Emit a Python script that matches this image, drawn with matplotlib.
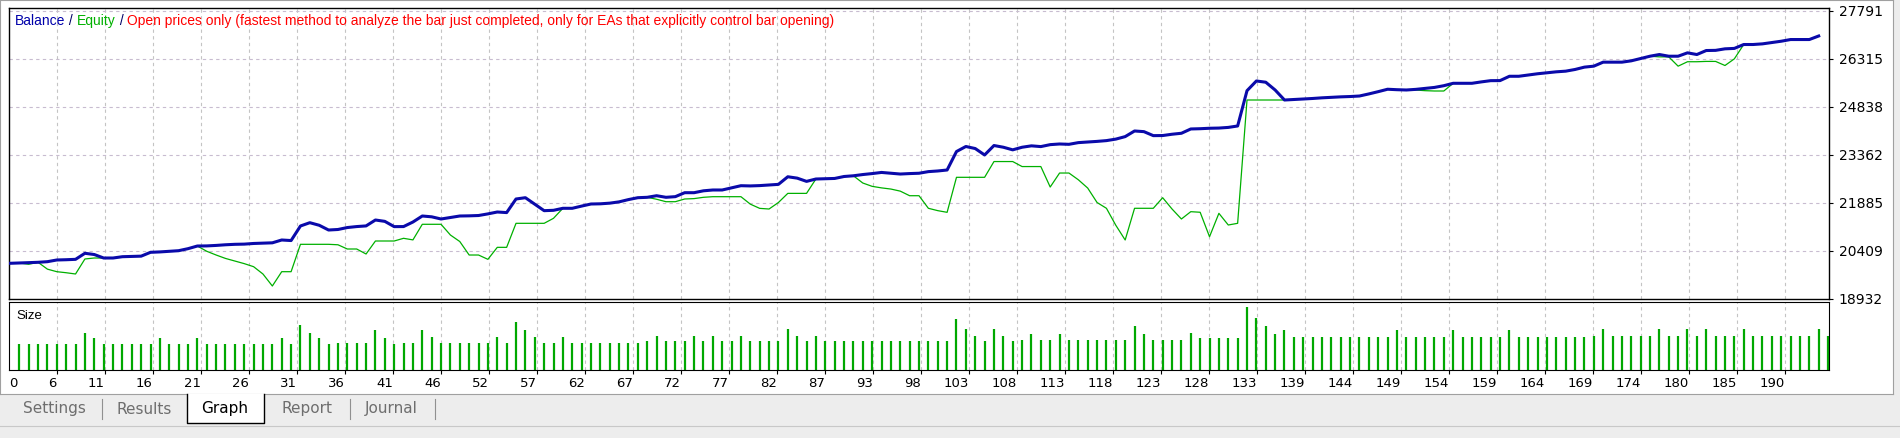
import numpy as np
import matplotlib
matplotlib.use("Agg")
import matplotlib.pyplot as plt
from matplotlib.patches import Rectangle
from matplotlib.lines import Line2D

balance = [
20030,20039,20050,20061,20080,20132,20140,20152,20338,20300,
20193,20193,20233,20240,20250,20368,20380,20400,20418,20480,
20562,20565,20580,20600,20614,20620,20640,20650,20660,20747,
20730,21178,21279,21200,21054,21070,21130,21160,21180,21362,
21320,21158,21160,21300,21485,21460,21393,21440,21485,21490,
21500,21550,21608,21590,22008,22048,21850,21649,21660,21722,
21722,21790,21854,21860,21880,21920,21990,22048,22060,22109,
22060,22080,22202,22202,22260,22285,22285,22350,22417,22410,
22420,22440,22458,22692,22650,22550,22623,22630,22640,22700,
22722,22760,22790,22825,22800,22776,22790,22800,22850,22870,
22900,23468,23623,23560,23362,23653,23600,23520,23600,23643,
23620,23680,23700,23690,23742,23760,23780,23804,23850,23927,
24100,24080,23957,23960,24000,24030,24162,24170,24184,24190,
24210,24254,25340,25638,25600,25361,25053,25070,25084,25100,
25120,25136,25150,25160,25176,25240,25310,25384,25370,25361,
25380,25410,25440,25493,25567,25567,25567,25610,25648,25650,
25783,25783,25820,25860,25890,25920,25940,25992,26064,26094,
26217,26217,26217,26258,26329,26400,26452,26400,26400,26504,
26452,26575,26580,26627,26640,26760,26760,26780,26820,26861,
26913,26913,26913,27022]

equity = [
20030,20039,20000,20061,19850,19772,19740,19701,20163,20193,
20193,20193,20233,20240,20250,20368,20380,20400,20418,20480,
20562,20400,20285,20180,20100,20020,19926,19700,19332,19772,
19772,20614,20614,20614,20614,20600,20470,20470,20316,20716,
20716,20716,20799,20750,21230,21230,21230,20900,20700,20285,
20285,20152,20521,20521,21260,21260,21260,21260,21414,21722,
21722,21790,21854,21860,21880,21920,21990,22048,22060,22000,
21925,21925,22008,22020,22060,22079,22079,22079,22079,21850,
21720,21700,21900,22181,22181,22181,22623,22630,22640,22700,
22722,22500,22397,22350,22314,22250,22109,22109,21722,21650,
21598,22675,22675,22675,22675,23160,23160,23160,23006,23006,
23006,22376,22807,22807,22600,22345,21900,21722,21200,20747,
21722,21722,21722,22048,21700,21393,21618,21600,20848,21567,
21208,21260,25053,25053,25053,25053,25053,25070,25084,25100,
25120,25136,25150,25160,25176,25240,25310,25384,25370,25361,
25360,25340,25330,25330,25567,25567,25567,25610,25648,25650,
25783,25783,25820,25860,25890,25920,25940,25992,26064,26094,
26217,26217,26217,26258,26329,26400,26380,26380,26094,26230,
26230,26240,26240,26114,26319,26760,26760,26780,26820,26861,
26913,26913,26913,27022]

size = [
.100,.100,.100,.100,.100,.100,.100,.141,.122,.100,
.100,.100,.100,.100,.100,.122,.100,.100,.100,.122,
.100,.100,.100,.100,.100,.100,.100,.100,.122,.100,
.173,.141,.122,.100,.103,.103,.103,.103,.154,.122,
.100,.103,.103,.154,.127,.103,.103,.103,.103,.103,
.103,.127,.103,.185,.154,.127,.103,.103,.127,.103,
.103,.103,.103,.103,.103,.103,.103,
.112,.131,.112,.112,.112,.131,.112,.131,.112,
.112,.131,.112,.112,.112,.112,.158,.131,.112,.131,
.112,.112,.112,.112,.112,.112,.112,.112,.112,.112,
.112,.112,.112,.112,.196,.158,.131,.112,.158,.131,
.112,.115,.138,.115,.115,.138,.115,.115,.115,.115,
.115,.115,.115,.169,.138,.115,.115,.115,.115,.142,
.123,.123,.123,.123,.123,.242,.200,.169,
.138,.154,.127,.127,.127,.127,.127,.127,.127,
.127,.127,.127,.127,.154,.127,.127,.127,.127,.127,
.154,.127,.127,.127,.127,.127,.154,.127,.127,.127,
.127,.127,.127,.127,.127,.131,.158,.131,.131,.131,
.131,.131,.158,.131,.131,.158,.131,.158,.131,.131,
.131,.158,.131,.131,.131,.131,.131,.131,.131,.158,
.131]

y_ticks = [18932, 20409, 21885, 23362, 24838, 26315, 27791]
x_labels = [6, 11, 16, 21, 26, 31, 36, 41, 46, 52, 57, 62, 67, 72, 77, 82, 87, 93, 98,
            103, 108, 113, 118, 123, 128, 133, 139, 144, 149, 154, 159, 164, 169, 174, 180, 185, 190]
tabs = ["Settings", "Results", "Graph", "Report", "Journal"]

W, H = 1900, 438
fig = plt.figure(figsize=(W / 100, H / 100), dpi=100)
fig.patch.set_facecolor("#EDEDED")

def rect(l, t, r, b):
    return [l / W, 1 - b / H, (r - l) / W, (b - t) / H]

bg = fig.add_axes([0, 1 - 394 / H, 1893 / W, 394 / H], zorder=-5)
bg.set_facecolor("white")
bg.set_xticks([]); bg.set_yticks([])
for s in bg.spines.values():
    s.set_color("#A0A0A0"); s.set_linewidth(0.8)

ax = fig.add_axes(rect(9, 8, 1829, 299), zorder=2)
ax2 = fig.add_axes(rect(9, 302, 1829, 370), zorder=2)

xl = (-0.1, 194.1)
grid_pos = np.linspace(4.99, 189.4, len(x_labels))
grid_kw = dict(color="#C4C4C4", lw=0.8, ls=(0, (3, 3)))

xb = np.arange(len(balance))
ax.plot(xb, equity, color="#00B000", lw=0.9, zorder=3)
ax.plot(xb, balance, color="#0A0AAA", lw=2.2, zorder=4, solid_joinstyle="round")
ax.set_xlim(*xl)
ax.set_ylim(18932, 27883)
ax.set_xticks(grid_pos)
ax.set_xticklabels([])
ax.tick_params(axis="x", length=0)
ax.yaxis.tick_right()
ax.set_yticks(y_ticks)
ax.set_yticklabels([str(v) for v in y_ticks], fontsize=10, family="DejaVu Sans")
ax.tick_params(axis="y", length=3, pad=4)
for v in grid_pos:
    ax.axvline(v, **grid_kw, zorder=1)
for v in y_ticks[1:]:
    ax.axhline(v, color="#C8BCD0", lw=0.8, ls=(0, (3, 3)), zorder=1)
for s in ax.spines.values():
    s.set_linewidth(1.0)

xs = np.arange(1, len(size) + 1)
ax2.vlines(xs, 0, size, color="#00A800", lw=1.6)
ax2.set_xlim(*xl)
ax2.set_ylim(0, 0.262)
ax2.set_yticks([])
ax2.set_xticks(list(grid_pos) + [0.83])
ax2.set_xticklabels([str(v) for v in x_labels] + ["0"], fontsize=9.5)
ax2.tick_params(axis="x", length=3, pad=2)
for lbl in ax2.get_xticklabels():
    lbl.set_horizontalalignment("right")
ax2.get_xticklines()[-2].set_visible(False)
for v in grid_pos:
    ax2.axvline(v, **grid_kw, zorder=0)
ax2.text(0.004, 0.88, "Size", transform=ax2.transAxes, fontsize=9.5, va="top",
         family="Liberation Sans")

parts = [("Balance", "#0000AA"), (" / ", "#000066"), ("Equity", "#00B000"), (" / ", "#000066"),
         ("Open prices only (fastest method to analyze the bar just completed, only for EAs that explicitly control bar opening)", "#FF0000")]
fig.canvas.draw()
r = fig.canvas.get_renderer()
x0 = 15
for txt, col in parts:
    t = fig.text(x0 / W, 1 - 21 / H, txt, color=col, fontsize=10, family="Liberation Sans",
                 va="center", zorder=5)
    bb = t.get_window_extent(renderer=r)
    x0 += bb.width

fig.patches.append(Rectangle((187.5 / W, 1 - 423 / H), 76 / W, 29 / H, transform=fig.transFigure,
                             facecolor="white", edgecolor="none", zorder=1))
tab_x = [54, 144, 225, 307, 391]
for name, tx in zip(tabs, tab_x):
    fig.text(tx / W, 1 - 409 / H, name, fontsize=11, ha="center", va="center",
             color="black" if name == "Graph" else "#6E6E6E", family="DejaVu Sans", zorder=5)
for sx in [102, 350, 435]:
    fig.add_artist(Line2D([sx / W, sx / W], [1 - 399 / H, 1 - 419 / H], color="#909090", lw=0.8))
fig.add_artist(Line2D([187 / W, 187 / W, 264 / W, 264 / W], [1 - 394 / H, 1 - 423 / H, 1 - 423 / H, 1 - 394 / H],
                      color="black", lw=1.0, zorder=3))
fig.add_artist(Line2D([0, 1], [1 - 426 / H, 1 - 426 / H], color="#C8C8C8", lw=0.8))

fig.savefig("out.png", dpi=100, facecolor=fig.get_facecolor())
